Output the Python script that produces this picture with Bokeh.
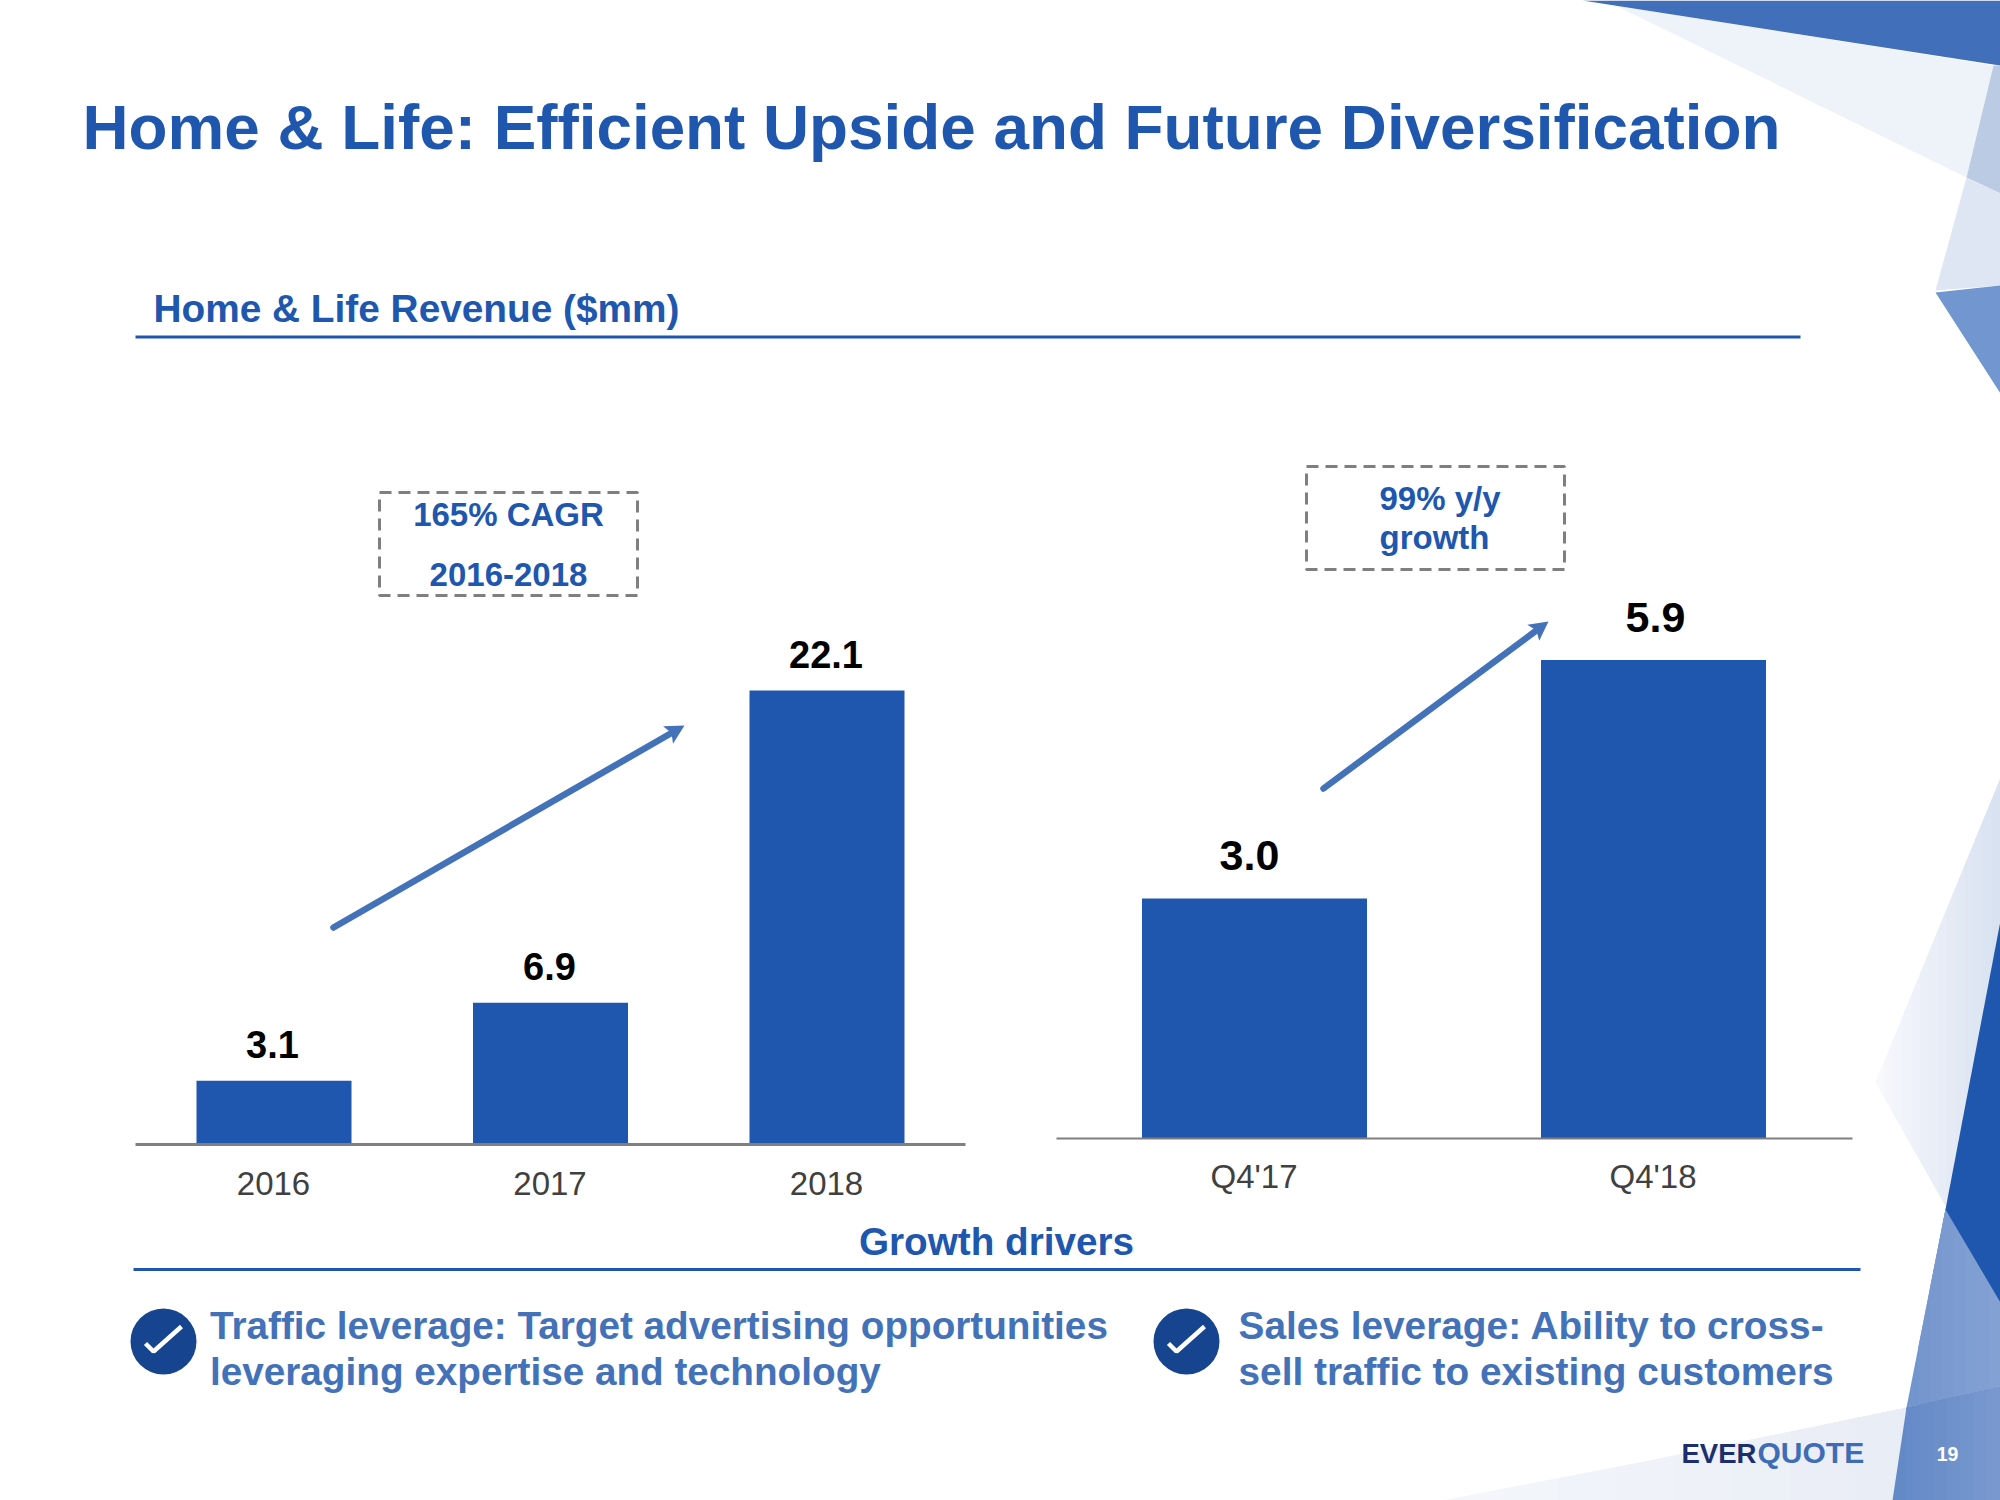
from bokeh.plotting import figure
from bokeh.models import Range1d
from bokeh.core.properties import value
from bokeh.embed import file_html
from bokeh.resources import INLINE
import math

# ---- data ----
annual_years = ["2016", "2017", "2018"]
annual_revenue = [3.1, 6.9, 22.1]
annual_labels = ["3.1", "6.9", "22.1"]
quarter_names = ["Q4'17", "Q4'18"]
quarter_revenue = [2.96, 5.9]
quarter_labels = ["3.0", "5.9"]

TITLE = "Home & Life: Efficient Upside and Future Diversification"
SUBTITLE = "Home & Life Revenue ($mm)"
DRIVERS = "Growth drivers"

BLUE = "#2057ae"
MID = "#4472b8"
GREY = "#7f7f7f"
FONT = value("Liberation Sans")
BASE_SHIFT = 0.36  # distance, in em, that Bokeh's alphabetic text sits below its anchor

W, H = 2000, 1500
X0, X1, Y0, Y1 = 0, 2000, 0, 1500

p = figure(width=W, height=H, output_backend="svg", toolbar_location=None,
           x_range=Range1d(X0, X1), y_range=Range1d(Y1, Y0), min_border=0,
           outline_line_color=None, background_fill_color="white")
p.axis.visible = False
p.grid.visible = False


def poly(pts, color):
    p.patch([a for a, _ in pts], [b for _, b in pts], fill_color=color, line_color=None)


def clip_right_of(pts, t):
    out = []
    for i, (ax, ay) in enumerate(pts):
        bx, by = pts[(i + 1) % len(pts)]
        if ax >= t:
            out.append((ax, ay))
        if (ax >= t) != (bx >= t):
            f = (t - ax) / (bx - ax)
            out.append((t, ay + f * (by - ay)))
    return out


def hex_rgb(c):
    return [int(c[i:i + 2], 16) for i in (1, 3, 5)]


def gradient(pts, c0, c1, steps=14):
    """Left-to-right colour ramp drawn as ever narrower clipped copies of a polygon."""
    xs = [a for a, _ in pts]
    lo, hi = min(xs), max(xs)
    a, b = hex_rgb(c0), hex_rgb(c1)
    for i in range(steps):
        f = i / (steps - 1)
        col = "#%02x%02x%02x" % tuple(round(u + f * (v - u)) for u, v in zip(a, b))
        poly(clip_right_of(pts, lo + (hi - lo) * i / steps), col)


# ---- decorative background ----
poly([(1615, 5), (1993, 65), (1966, 177)], "#eef2f9")
poly([(1582, 0), (2000, 0), (2000, 65)], "#416fb9")
poly([(1993, 65), (2000, 65), (2000, 193), (1966, 177)], "#bccbe4")
poly([(1966, 177), (2000, 193), (2000, 285), (1935, 290)], "#dfe6f3")
poly([(1935, 292), (2000, 285), (2000, 393)], "#7296cf")
gradient([(2000, 778), (1875, 1082), (1945, 1205), (2000, 1205)], "#f7f8fc", "#d9e2f1")
gradient([(1441, 1500), (1640, 1462), (1907, 1407), (1893, 1500)], "#f4f6fb", "#e9edf6", 8)
gradient([(1945, 1209), (2000, 1300), (2000, 1387), (1906, 1407)], "#7395cd", "#84a1d4", 8)
gradient([(1906, 1407), (2000, 1387), (2000, 1500), (1892, 1500)], "#6389c7", "#7898cf", 8)
poly([(2000, 920), (1945, 1209), (2000, 1302)], BLUE)


def txt(x, y, s, size, color, bold=True, align="left", font=FONT):
    p.text(x=[x], y=[y - BASE_SHIFT * size], text=[s], text_font=font, text_font_size=f"{size}px",
           text_font_style="bold" if bold else "normal", text_color=color,
           text_align=align, text_baseline="alphabetic")


def rule(x0, x1, y, color, w):
    p.line([x0, x1], [y, y], line_color=color, line_width=w)


# ---- headers ----
txt(82, 149, TITLE, 63.8, BLUE)
txt(153, 322, SUBTITLE, 38.8, BLUE)
rule(135, 1800, 336.5, BLUE, 3)
txt(996, 1255, DRIVERS, 38.7, BLUE, align="center")
rule(133, 1860, 1269, BLUE, 3)


# ---- bar panels ----
def panel(names, vals, labels, c0, step, bar_w, base, k, axis_left, axis_right, axis_w,
          tick_y, label_gap, label_size, label_dx, tag):
    xr = Range1d((X0 - c0) / step, (X1 - c0) / step)
    yr = Range1d((base - Y1) / k, (base - Y0) / k)
    p.extra_x_ranges[tag] = xr
    p.extra_y_ranges[tag] = yr
    idx = list(range(len(names)))
    p.vbar(x=idx, top=vals, bottom=0, width=bar_w / step, fill_color=BLUE, line_color=None,
           x_range_name=tag, y_range_name=tag)
    p.line([axis_left, axis_right], [base, base], line_color=GREY, line_width=axis_w)
    for i, v, s, dx in zip(idx, vals, labels, label_dx):
        p.text(x=[i], y=[v], text=[s], x_range_name=tag, y_range_name=tag,
               text_font=FONT, text_font_size=f"{label_size}px", text_font_style="bold",
               text_color="black", text_align="center", text_baseline="alphabetic",
               x_offset=dx, y_offset=-(label_gap + BASE_SHIFT * label_size))
    for i, n in zip(idx, names):
        txt(c0 + i * step - 0.5, tick_y, n, 33, "#404040", bold=False, align="center")


panel(annual_years, annual_revenue, annual_labels, 273.5, 276.5, 155, 1144, 20.54,
      135, 965, 3, 1195, 22.5, 38, [-1.5, -1, -1], "annual")
panel(quarter_names, quarter_revenue, quarter_labels, 1254, 399, 225, 1138, 81.1,
      1056, 1852, 2, 1188, 27.5, 43, [-5, 2], "quarter")


# ---- growth call-outs ----
def box(l, r, t, b):
    p.line([l, r, r, l, l], [t, t, b, b, t], line_color=GREY, line_width=3, line_dash="12 7")


def arrow(x0, y0, x1, y1):
    a = math.atan2(y1 - y0, x1 - x0)
    ux, uy = math.cos(a), math.sin(a)
    nx, ny = -uy, ux
    hl, hw = 19, 10
    bx, by = x1 - hl * ux, y1 - hl * uy
    p.line([x0, bx + 4 * ux], [y0, by + 4 * uy], line_color=MID, line_width=6.5, line_cap="round")
    poly([(x1, y1), (bx + hw * nx, by + hw * ny), (bx + 4 * ux, by + 4 * uy),
          (bx - hw * nx, by - hw * ny)], MID)


box(379, 637, 492, 595)
txt(508, 526, "165% CAGR", 33, BLUE, align="center")
txt(508, 586, "2016-2018", 33, BLUE, align="center")
arrow(333, 927, 684, 725)

box(1306, 1564, 466, 569)
txt(1379, 510, "99% y/y", 33, BLUE)
txt(1379, 549, "growth", 33, BLUE)
arrow(1323, 788, 1548, 621)


# ---- growth drivers ----
def check(cx, cy):
    p.scatter([cx], [cy], size=66, marker="circle", fill_color="#17448e", line_color=None)
    p.line([cx - 18, cx - 10, cx + 18], [cy + 2, cy + 10, cy - 15], line_color="white", line_width=4.5)


check(163, 1341)
check(1186, 1341)
txt(209.5, 1339, "Traffic leverage: Target advertising opportunities", 38.7, MID)
txt(209.5, 1385, "leveraging expertise and technology", 38.7, MID)
txt(1238, 1339, "Sales leverage: Ability to cross-", 38.8, MID)
txt(1238, 1385, "sell traffic to existing customers", 38.8, MID)

# ---- footer ----
txt(1681, 1463, "EVER", 27.5, "#1b2f6e")
txt(1757, 1463, "QUOTE", 30, "#3f6db5")
txt(1947, 1461, "19", 19.5, "white", align="center")

open("out.html", "w").write(file_html(p, INLINE))
